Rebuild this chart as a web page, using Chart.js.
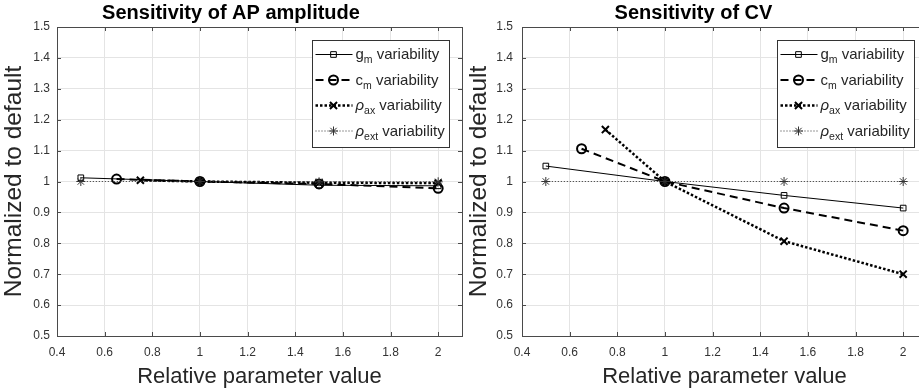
<!DOCTYPE html>
<html>
<head>
<meta charset="utf-8">
<script src="https://cdn.jsdelivr.net/npm/chart.js"></script>
<style>
body { margin: 0; background: #fff; }
#wrap { position: relative; width: 919px; height: 390px; overflow: hidden; background: #fff; }
canvas { position: absolute; top: 0; }
#graph1 { left: 0; }
#graph2 { left: 460px; }
</style>
</head>
<body>
<div id="wrap">
<canvas id="graph1" width="470" height="390"></canvas>
<canvas id="graph2" width="480" height="390"></canvas>
</div>
<script>
// tick labels
const xTicks = [0.4, 0.6, 0.8, 1, 1.2, 1.4, 1.6, 1.8, 2];
const yTicks = [0.5, 0.6, 0.7, 0.8, 0.9, 1, 1.1, 1.2, 1.3, 1.4, 1.5];

// x positions of each series
const xGm = [0.5, 1, 1.5, 2];
const xCm = [0.65, 1, 1.5, 2];
const xRhoAx = [0.75, 1, 1.5, 2];
const xRhoExt = [0.5, 1, 1.5, 2];

// AP amplitude, normalized
const apGm = [1.012, 1.0, 0.988, 0.986];
const apCm = [1.008, 1.0, 0.992, 0.978];
const apRhoAx = [1.004, 1.0, 0.996, 0.995];
const apRhoExt = [1.0, 1.0, 0.999, 0.999];

// CV, normalized
const cvGm = [1.05, 1.0, 0.955, 0.914];
const cvCm = [1.106, 1.0, 0.914, 0.841];
const cvRhoAx = [1.168, 1.0, 0.807, 0.70];
const cvRhoExt = [1.0, 1.0, 1.0, 1.0];

// legend text: base symbol + subscript
const legendBase = ['g', 'c', '\u03c1', '\u03c1'];
const legendSub = ['m', 'm', 'ax', 'ext'];
const legendItalic = [false, false, true, true];

const FONT = "'Liberation Sans', Arial, sans-serif";
const TXT = '#262626';

function pts(xs, ys) {
    return xs.map((x, i) => ({ x: x, y: ys[i] }));
}

const styles = [
    { borderWidth: 1, borderDash: [], pointStyle: 'rect', pointRadius: 4, pointBorderWidth: 1 },
    { borderWidth: 2, borderDash: [8, 5], pointStyle: 'circle', pointRadius: 4.5, pointBorderWidth: 2 },
    { borderWidth: 2.5, borderDash: [2.5, 2], pointStyle: 'crossRot', pointRadius: 5, pointBorderWidth: 2 },
    { borderWidth: 1, borderDash: [1, 2], pointStyle: 'star', pointRadius: 4.5, pointBorderWidth: 1 }
];

function makeDatasets(series) {
    return series.map((s, i) => Object.assign({
        data: s,
        borderColor: i === 3 ? '#333' : '#000',
        pointBorderColor: i === 3 ? '#333' : '#000',
        pointBackgroundColor: i === 1
            ? (c => (c.raw && c.raw.x === 1 ? '#000' : 'rgba(0,0,0,0)'))
            : 'rgba(0,0,0,0)',
        fill: false,
        tension: 0,
        order: 3 - i
    }, styles[i]));
}

function drawMarker(ctx, style, x, y, r) {
    ctx.beginPath();
    if (style === 'rect') {
        const s = Math.SQRT1_2 * r;
        ctx.rect(x - s, y - s, 2 * s, 2 * s);
    } else if (style === 'circle') {
        ctx.arc(x, y, r, 0, Math.PI * 2);
    } else {
        const d = Math.SQRT1_2 * r;
        ctx.moveTo(x - d, y - d); ctx.lineTo(x + d, y + d);
        ctx.moveTo(x - d, y + d); ctx.lineTo(x + d, y - d);
        if (style === 'star') {
            ctx.moveTo(x - r, y); ctx.lineTo(x + r, y);
            ctx.moveTo(x, y - r); ctx.lineTo(x, y + r);
        }
    }
    ctx.stroke();
}

const boxPlugin = {
    id: 'matlabBox',
    afterDraw(chart) {
        const ctx = chart.ctx;
        const a = chart.chartArea;
        const xs = chart.scales.x, ys = chart.scales.y;
        ctx.save();
        ctx.strokeStyle = '#4a4a4a';
        ctx.lineWidth = 1;
        ctx.setLineDash([]);
        ctx.beginPath();
        xTicks.forEach(v => {
            const px = Math.round(xs.getPixelForValue(v)) + 0.5;
            ctx.moveTo(px, a.bottom); ctx.lineTo(px, a.bottom - 4);
            ctx.moveTo(px, a.top); ctx.lineTo(px, a.top + 4);
        });
        yTicks.forEach(v => {
            const py = Math.round(ys.getPixelForValue(v)) + 0.5;
            ctx.moveTo(a.left, py); ctx.lineTo(a.left + 4, py);
            ctx.moveTo(a.right, py); ctx.lineTo(a.right - 4, py);
        });
        ctx.stroke();
        ctx.strokeRect(Math.round(a.left) + 0.5, Math.round(a.top) + 0.5,
            Math.round(a.right - a.left), Math.round(a.bottom - a.top));

        // legend
        const bw = 137, bh = 107;
        const bx = Math.round(a.right) - 13 - bw + 0.5;
        const by = Math.round(a.top) + 13 + 0.5;
        ctx.fillStyle = '#fff';
        ctx.fillRect(bx, by, bw, bh);
        ctx.strokeStyle = '#333';
        ctx.strokeRect(bx, by, bw, bh);
        chart.data.datasets.forEach((ds, i) => {
            const y = by + 14 + i * 25.5;
            ctx.strokeStyle = ds.borderColor;
            ctx.lineWidth = ds.borderWidth;
            ctx.setLineDash(ds.borderDash);
            ctx.beginPath();
            ctx.moveTo(bx + 3, y); ctx.lineTo(bx + 40, y);
            ctx.stroke();
            ctx.setLineDash([]);
            ctx.lineWidth = ds.pointBorderWidth;
            drawMarker(ctx, ds.pointStyle, bx + 21, y, ds.pointRadius);

            ctx.fillStyle = TXT;
            ctx.textBaseline = 'alphabetic';
            ctx.textAlign = 'left';
            let tx = bx + 43;
            const base = y + 4.5;
            ctx.font = (legendItalic[i] ? 'italic ' : '') + '15px ' + FONT;
            ctx.fillText(legendBase[i], tx, base);
            tx += ctx.measureText(legendBase[i]).width;
            ctx.font = '10.5px ' + FONT;
            ctx.fillText(legendSub[i], tx, base + 4);
            tx += ctx.measureText(legendSub[i]).width;
            ctx.font = '15px ' + FONT;
            ctx.fillText(' variability', tx, base);
        });
        ctx.restore();
    }
};

function createChart(ctx, title, series, yWidth, yPad, yTitlePad, padRight) {
    return new Chart(ctx, {
        type: 'line',
        data: { datasets: makeDatasets(series) },
        options: {
            responsive: false,
            animation: false,
            events: [],
            layout: { padding: { left: 0, right: padRight, top: 0, bottom: 0 } },
            plugins: {
                legend: { display: false },
                tooltip: { enabled: false },
                title: {
                    display: true,
                    text: title,
                    color: '#000',
                    font: { family: FONT, size: 20, weight: 'bold', lineHeight: 1.2 },
                    padding: { top: 1, bottom: 2 }
                }
            },
            scales: {
                x: {
                    type: 'linear',
                    min: 0.4,
                    max: 2.1,
                    afterBuildTicks: s => { s.ticks = xTicks.map(v => ({ value: v })); },
                    afterFit: s => { s.height = 54; },
                    grid: { color: '#e4e4e4', drawTicks: false },
                    border: { display: false },
                    ticks: { padding: 9, color: '#333', font: { family: FONT, size: 12 }, callback: v => String(v), maxRotation: 0 },
                    title: { display: true, text: 'Relative parameter value', color: TXT, font: { family: FONT, size: 22 }, padding: { top: 0, bottom: 0 } }
                },
                y: {
                    type: 'linear',
                    min: 0.5,
                    max: 1.5,
                    afterBuildTicks: s => { s.ticks = yTicks.map(v => ({ value: v })); },
                    afterFit: s => { s.width = yWidth; },
                    grid: { color: '#e4e4e4', drawTicks: false },
                    border: { display: false },
                    ticks: { padding: yPad, color: '#333', font: { family: FONT, size: 12 }, callback: v => String(v) },
                    title: { display: true, text: 'Normalized to default', color: TXT, font: { family: FONT, size: 24.5 }, padding: { top: yTitlePad, bottom: 0 } }
                }
            }
        },
        plugins: [boxPlugin]
    });
}

const chart1 = createChart(document.getElementById('graph1').getContext('2d'), 'Sensitivity of AP amplitude',
    [pts(xGm, apGm), pts(xCm, apCm), pts(xRhoAx, apRhoAx), pts(xRhoExt, apRhoExt)], 57, 7, 0, 8);
const chart2 = createChart(document.getElementById('graph2').getContext('2d'), 'Sensitivity of CV',
    [pts(xGm, cvGm), pts(xCm, cvCm), pts(xRhoAx, cvRhoAx), pts(xRhoExt, cvRhoExt)], 62, 9, 5, 13);
</script>
</body>
</html>
